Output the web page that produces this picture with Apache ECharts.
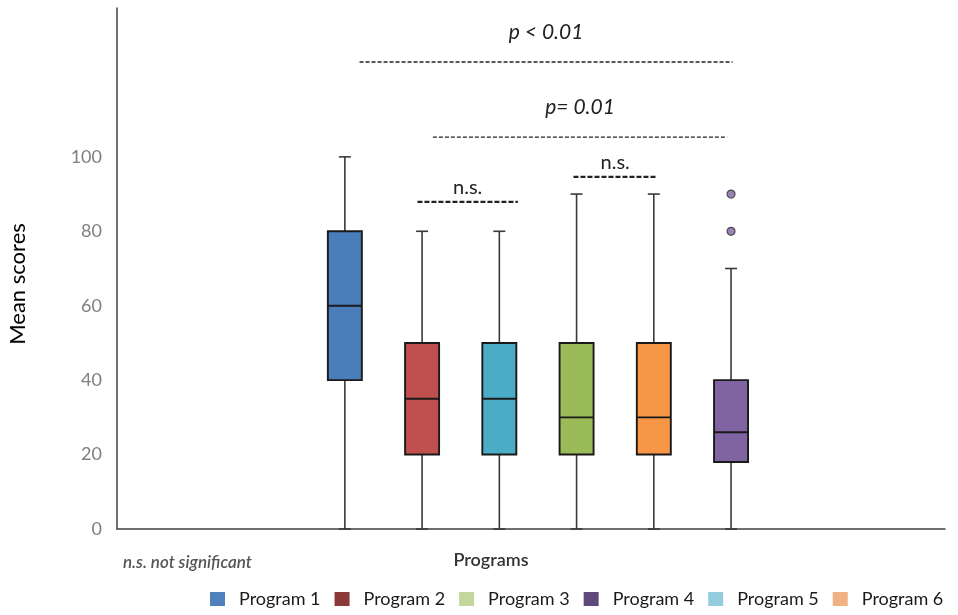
<!DOCTYPE html>
<html>
<head>
<meta charset="utf-8">
<script src="https://cdn.jsdelivr.net/npm/echarts@6/dist/echarts.min.js"></script>
<style>html,body{margin:0;padding:0;background:#fff;}#c{width:958px;height:615px;}</style>
</head>
<body>
<div id="c"></div>
<script>
// Box order left to right (matched to legend hues)
const boxNames = ['Program 1', 'Program 2', 'Program 5', 'Program 3', 'Program 6', 'Program 4'];
const boxPos = [1, 2, 3, 4, 5, 6];
const boxMin = [0, 0, 0, 0, 0, 0];
const boxQ1 = [40, 20, 20, 20, 20, 18];
const boxMedian = [60, 35, 35, 30, 30, 26];
const boxQ3 = [80, 50, 50, 50, 50, 40];
const boxMax = [100, 80, 80, 90, 90, 70];
const boxColors = ['#4a7ebb', '#c0504d', '#4bacc6', '#9bbb59', '#f79646', '#8064a2'];

// outliers of the 6th box
const outliers = [[6, 80], [6, 90]];

// legend
const legendNames = ['Program 1', 'Program 2', 'Program 3', 'Program 4', 'Program 5', 'Program 6'];
const legendColors = ['#4f81bd', '#8c3836', '#c3d69b', '#5f497a', '#93cddd', '#f2b183'];

// y tick labels shown
const yTicks = [0, 20, 40, 60, 80, 100];

// significance annotations: [x start, x end, y of line, y of text]
const annoTexts = ['p < 0.01', 'p= 0.01', 'n.s.', 'n.s.'];
const annoX1 = [1.19, 2.14, 1.94, 3.96];
const annoX2 = [6.02, 5.95, 3.24, 5.04];
const annoLineY = [125.5, 105.3, 87.9, 94.6];
const annoTextY = [133.5, 113.2, 91.7, 98.5];

const FONT = 'Lato, "Open Sans", sans-serif';

function renderBox(params, api) {
  const x = api.value(0);
  const lo = api.coord([x, api.value(1)]);
  const q1 = api.coord([x, api.value(2)]);
  const md = api.coord([x, api.value(3)]);
  const q3 = api.coord([x, api.value(4)]);
  const hi = api.coord([x, api.value(5)]);
  const cx = lo[0];
  const hw = 17, cw = 6;
  const color = api.visual('color');
  const wStyle = {stroke: '#3a3a3a', lineWidth: 1.6};
  const bStyle = {stroke: '#1a1a1a', lineWidth: 1.9};
  return {
    type: 'group',
    children: [
      {type: 'line', shape: {x1: cx, y1: hi[1], x2: cx, y2: q3[1]}, style: wStyle},
      {type: 'line', shape: {x1: cx, y1: q1[1], x2: cx, y2: lo[1]}, style: wStyle},
      {type: 'line', shape: {x1: cx - cw, y1: hi[1], x2: cx + cw, y2: hi[1]}, style: wStyle},
      {type: 'line', shape: {x1: cx - cw, y1: lo[1], x2: cx + cw, y2: lo[1]}, style: wStyle},
      {type: 'rect', shape: {x: cx - hw, y: q3[1], width: 2 * hw, height: q1[1] - q3[1]},
        style: {fill: color, stroke: '#1a1a1a', lineWidth: 1.9}},
      {type: 'line', shape: {x1: cx - hw, y1: md[1], x2: cx + hw, y2: md[1]}, style: bStyle}
    ]
  };
}

function renderAnno(params, api) {
  const i = params.dataIndex;
  const p1 = api.coord([api.value(0), api.value(2)]);
  const p2 = api.coord([api.value(1), api.value(2)]);
  const pt = api.coord([(api.value(0) + api.value(1)) / 2, api.value(3)]);
  const isNs = annoTexts[i] === 'n.s.';
  return {
    type: 'group',
    children: [
      {type: 'line', shape: {x1: p1[0], y1: p1[1], x2: p2[0], y2: p2[1]},
        style: {stroke: '#222', lineWidth: isNs ? 2.3 : 1.4, lineDash: isNs ? [5, 2] : [4, 2]}},
      {type: 'text', x: pt[0], y: pt[1],
        style: {text: annoTexts[i], fill: '#222', align: 'center', verticalAlign: 'middle',
          font: (isNs ? 'normal ' : 'italic ') + (isNs ? '20px ' : '21px ') + FONT}}
    ]
  };
}

const series = [];
boxNames.forEach(function (n, i) {
  series.push({
    name: n,
    type: 'custom',
    renderItem: renderBox,
    itemStyle: {color: boxColors[i]},
    encode: {x: 0, y: [1, 2, 3, 4, 5]},
    data: [[boxPos[i], boxMin[i], boxQ1[i], boxMedian[i], boxQ3[i], boxMax[i]]],
    clip: false,
    z: 3
  });
});
series.push({
  name: 'Outliers',
  type: 'scatter',
  data: outliers,
  symbolSize: 8,
  itemStyle: {color: '#8064a2', borderColor: '#333', borderWidth: 1.2},
  z: 4
});
series.push({
  name: 'Significance',
  type: 'custom',
  renderItem: renderAnno,
  encode: {x: [0, 1], y: 2},
  data: annoX1.map(function (v, i) { return [v, annoX2[i], annoLineY[i], annoTextY[i]]; }),
  clip: false,
  z: 5
});

const chart = echarts.init(document.getElementById('c'), null, {renderer: 'canvas'});
chart.setOption({
  backgroundColor: '#ffffff',
  animation: false,
  grid: {left: 117, right: 13, top: 8, bottom: 86, containLabel: false},
  xAxis: {
    type: 'value', min: -1.95, max: 8.77,
    axisLine: {show: true, onZero: false, lineStyle: {color: '#404040', width: 1.5}},
    axisTick: {show: false}, axisLabel: {show: false}, splitLine: {show: false}
  },
  yAxis: {
    type: 'value', min: 0, max: 140, interval: 20,
    axisLine: {show: true, onZero: false, lineStyle: {color: '#404040', width: 1.5}},
    axisTick: {show: false}, splitLine: {show: false},
    axisLabel: {
      color: '#7f7f7f', fontSize: 18, fontFamily: FONT, margin: 15,
      formatter: function (v) { return yTicks.indexOf(v) >= 0 ? String(v) : ''; }
    }
  },
  legend: {
    data: legendNames.map(function (n, i) { return {name: n, itemStyle: {color: legendColors[i]}}; }),
    orient: 'horizontal',
    left: 210, top: 590, width: 900, padding: 0,
    itemWidth: 15, itemHeight: 14, itemGap: 14,
    icon: 'rect',
    textStyle: {fontFamily: FONT, fontSize: 18, color: '#1a1a1a', padding: [0, 0, 0, 9]}
  },
  graphic: [
    {type: 'text', x: 18, y: 284, rotation: Math.PI / 2,
      style: {text: 'Mean scores', font: '22px ' + FONT, fill: '#000', align: 'center', verticalAlign: 'middle'}},
    {type: 'text', x: 491, y: 560,
      style: {text: 'Programs', font: '600 18px ' + FONT, fill: '#333', align: 'center', verticalAlign: 'middle'}},
    {type: 'text', x: 123, y: 563,
      style: {text: 'n.s. not significant', font: 'italic 600 17px ' + FONT, fill: '#555', align: 'left', verticalAlign: 'middle'}}
  ],
  series: series
});
</script>
</body>
</html>
